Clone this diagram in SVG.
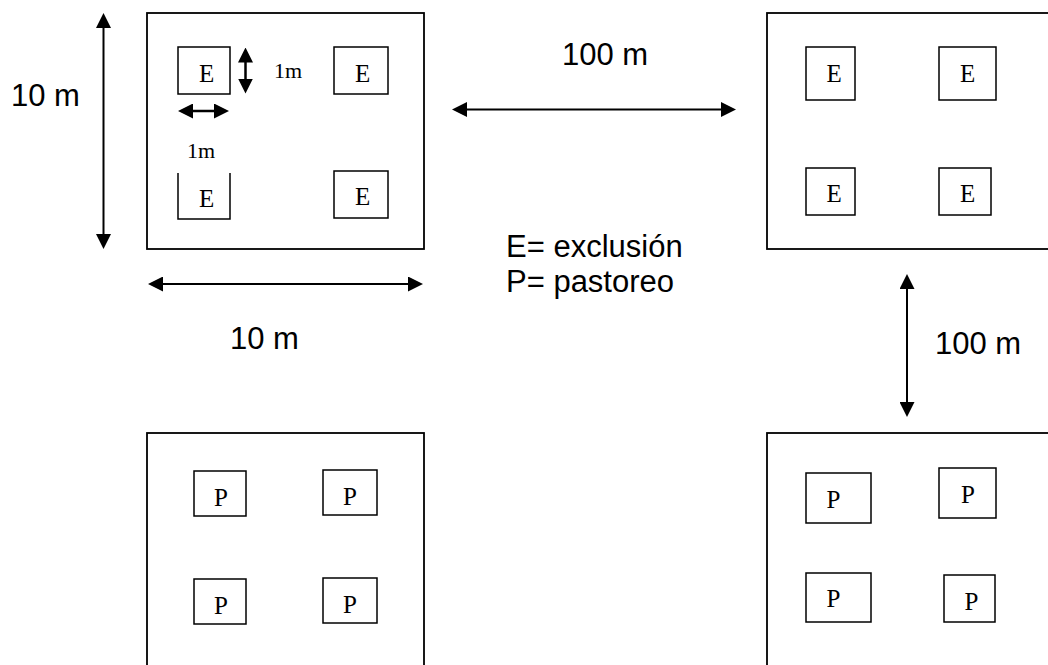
<svg xmlns="http://www.w3.org/2000/svg" width="1048" height="665" viewBox="0 0 1048 665">
<defs>
<marker id="ah" markerUnits="userSpaceOnUse" markerWidth="15" markerHeight="15" viewBox="0 0 15 15" refX="10" refY="7.5" orient="auto-start-reverse">
<path d="M0,0 L15,7.5 L0,15 z" fill="#000"/>
</marker>
<style>
.big{fill:none;stroke:#000;stroke-width:1.8}
.sm{fill:none;stroke:#000;stroke-width:1.5}
.ser{font-family:"Liberation Serif","Times New Roman",serif;font-size:25px;fill:#000}
.one{font-family:"Liberation Serif","Times New Roman",serif;font-size:22px;fill:#000}
.sans{font-family:"Liberation Sans",Arial,sans-serif;font-size:31px;fill:#000}
.arr{stroke:#000;stroke-width:2;fill:none;marker-start:url(#ah);marker-end:url(#ah)}
.arr2{stroke:#000;stroke-width:2.5;fill:none;marker-start:url(#ah);marker-end:url(#ah)}
</style>
</defs>
<rect width="1048" height="665" fill="#fff"/>

<g id="plot-top-left">
<rect class="big" x="147" y="13" width="277" height="236"/>
<g id="tl-e1"><rect class="sm" x="178" y="47" width="52" height="47"/><text class="ser" x="199" y="82">E</text></g>
<g id="tl-e2"><rect class="sm" x="334" y="47" width="54" height="47"/><text class="ser" x="355" y="82">E</text></g>
<g id="tl-e3"><path class="sm" d="M178,173 V219 H230 V173"/><text class="ser" x="199" y="207">E</text></g>
<g id="tl-e4"><rect class="sm" x="334" y="171" width="54" height="47"/><text class="ser" x="355" y="205">E</text></g>
<text class="one" x="274" y="78">1m</text>
<text class="one" x="187" y="158">1m</text>
</g>

<g id="plot-top-right">
<rect class="big" x="767" y="13" width="300" height="236"/>
<g id="tr-e1"><rect class="sm" x="806" y="47" width="49" height="53"/><text class="ser" x="826.5" y="82">E</text></g>
<g id="tr-e2"><rect class="sm" x="939" y="47" width="57" height="53"/><text class="ser" x="960" y="82">E</text></g>
<g id="tr-e3"><rect class="sm" x="806" y="168" width="49" height="47"/><text class="ser" x="826.5" y="202">E</text></g>
<g id="tr-e4"><rect class="sm" x="939" y="168" width="52" height="47"/><text class="ser" x="960" y="202">E</text></g>
</g>

<g id="plot-bottom-left">
<rect class="big" x="147" y="433" width="277" height="260"/>
<g id="bl-p1"><rect class="sm" x="194" y="471" width="52" height="45"/><text class="ser" x="214" y="506">P</text></g>
<g id="bl-p2"><rect class="sm" x="323" y="470" width="54" height="45"/><text class="ser" x="343" y="505">P</text></g>
<g id="bl-p3"><rect class="sm" x="194" y="579" width="52" height="45"/><text class="ser" x="214" y="614">P</text></g>
<g id="bl-p4"><rect class="sm" x="323" y="578" width="54" height="45"/><text class="ser" x="343" y="613">P</text></g>
</g>

<g id="plot-bottom-right">
<rect class="big" x="767" y="433" width="300" height="260"/>
<g id="br-p1"><rect class="sm" x="806" y="473" width="65" height="50"/><text class="ser" x="826.5" y="508">P</text></g>
<g id="br-p2"><rect class="sm" x="939" y="468" width="57" height="50"/><text class="ser" x="961" y="503">P</text></g>
<g id="br-p3"><rect class="sm" x="806" y="573" width="65" height="49"/><text class="ser" x="826.5" y="607">P</text></g>
<g id="br-p4"><rect class="sm" x="944" y="575" width="51" height="47"/><text class="ser" x="964.5" y="610">P</text></g>
</g>

<g id="labels">
<text class="sans" x="11" y="106">10 m</text>
<text class="sans" x="562" y="65">100 m</text>
<text class="sans" x="506" y="257">E= exclusión</text>
<text class="sans" x="506" y="292">P= pastoreo</text>
<text class="sans" x="230" y="349">10 m</text>
<text class="sans" x="935" y="354">100 m</text>
</g>

<g id="connectors">
<line class="arr" x1="103.5" y1="18" x2="103.5" y2="244"/>
<line class="arr" x1="457" y1="109.5" x2="731" y2="109.5"/>
<line class="arr" x1="153" y1="284" x2="418" y2="284"/>
<line class="arr" x1="907" y1="279" x2="907" y2="412"/>
<line class="arr2" x1="245.5" y1="52.5" x2="245.5" y2="88.5"/>
<line class="arr2" x1="183" y1="111" x2="224" y2="111"/>
</g>
</svg>
